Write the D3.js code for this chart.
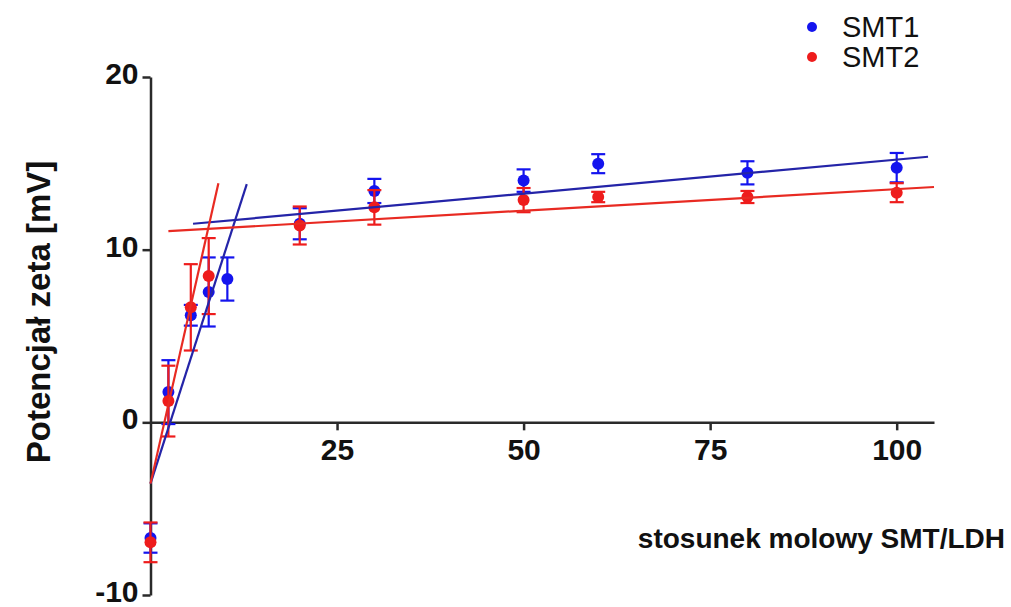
<!DOCTYPE html>
<html>
<head>
<meta charset="utf-8">
<script src="https://cdn.jsdelivr.net/npm/d3@7"></script>
<style>
  body { margin: 0; background: #fff; }
  svg { font-family: "Liberation Sans", Arial, sans-serif; }
</style>
</head>
<body>
<div id="chart"></div>
<script>
const ratios = [0, 2.4, 5.4, 7.8, 10.3, 20, 30, 50, 60, 80, 100];
const smt1 = [-6.7, 1.75, 6.2, 7.55, 8.3, 11.5, 13.4, 14.0, 14.98, 14.45, 14.75];
const smt1Err = [0.85, 1.85, 0.6, 2.0, 1.25, 0.9, 0.7, 0.65, 0.55, 0.67, 0.85];
const ratios2 = [0, 2.4, 5.4, 7.8, 20, 30, 50, 60, 80, 100];
const smt2 = [-6.95, 1.23, 6.66, 8.47, 11.4, 12.45, 12.87, 13.05, 13.05, 13.3];
const smt2Err = [1.15, 2.05, 2.5, 2.2, 1.1, 1.0, 0.7, 0.3, 0.35, 0.55];

// fitted lines: [x start, y start, x end, y end]
const fit1 = [[0, -3.55, 12.9, 13.8], [5.7, 11.5, 104.2, 15.38]];
const fit2 = [[0, -3.55, 9.1, 13.84], [2.4, 11.07, 105, 13.63]];

const xTicks = [25, 50, 75, 100];
const yTicks = [-10, 0, 10, 20];

const width = 1011, height = 607;
const svg = d3.select("#chart").append("svg")
    .attr("width", width).attr("height", height);

const x = d3.scaleLinear().domain([0, 105]).range([150.5, 934]);
const y = d3.scaleLinear().domain([-10, 20]).range([595, 77]);

const blue = "#1414ee", blueLine = "#2424a8";
const red = "#ee1c1c", redLine = "#e82a22";
const fmt = function(d) { return String(d); };

// axes
const xAxis = svg.append("g")
    .attr("transform", "translate(0," + y(0) + ")")
    .call(d3.axisBottom(x).tickValues(xTicks).tickFormat(fmt).tickSize(8).tickSizeOuter(0).tickPadding(8));
const yAxis = svg.append("g")
    .attr("transform", "translate(" + x(0) + ",0)")
    .call(d3.axisLeft(y).tickValues(yTicks).tickFormat(fmt).tickSize(8).tickSizeOuter(0).tickPadding(4));

[xAxis, yAxis].forEach(function(a) {
  a.select(".domain").attr("stroke", "#2a2a2a").attr("stroke-width", 2.5);
  a.selectAll(".tick line").attr("stroke", "#2a2a2a").attr("stroke-width", 2.5);
  a.selectAll(".tick text")
      .attr("fill", "#111")
      .style("font-size", "30px")
      .style("font-weight", "bold");
});
yAxis.selectAll(".tick text").attr("dy", "0.22em");

// titles
svg.append("text")
    .attr("transform", "translate(38," + 312 + ") rotate(-90)")
    .attr("text-anchor", "middle")
    .attr("dy", "0.35em")
    .style("font-size", "33px").style("font-weight", "bold")
    .attr("fill", "#111")
    .text("Potencjał zeta [mV]");

svg.append("text")
    .attr("x", 1005).attr("y", 548)
    .attr("text-anchor", "end")
    .style("font-size", "28px").style("font-weight", "bold")
    .attr("fill", "#111")
    .text("stosunek molowy SMT/LDH");

function drawSeries(xs, ys, errs, col, cls) {
  const g = svg.append("g").attr("class", cls);
  const pts = xs.map(function(v, i) { return {x: v, y: ys[i], e: errs[i]}; });
  const bars = g.selectAll("g.err").data(pts).enter().append("g").attr("class", "err")
      .attr("stroke", col).attr("stroke-width", 2.2);
  bars.append("line")
      .attr("x1", function(d) { return x(d.x); }).attr("x2", function(d) { return x(d.x); })
      .attr("y1", function(d) { return y(d.y + d.e); }).attr("y2", function(d) { return y(d.y - d.e); });
  bars.append("line")
      .attr("x1", function(d) { return x(d.x) - 7; }).attr("x2", function(d) { return x(d.x) + 7; })
      .attr("y1", function(d) { return y(d.y + d.e); }).attr("y2", function(d) { return y(d.y + d.e); });
  bars.append("line")
      .attr("x1", function(d) { return x(d.x) - 7; }).attr("x2", function(d) { return x(d.x) + 7; })
      .attr("y1", function(d) { return y(d.y - d.e); }).attr("y2", function(d) { return y(d.y - d.e); });
  g.selectAll("circle").data(pts).enter().append("circle")
      .attr("cx", function(d) { return x(d.x); })
      .attr("cy", function(d) { return y(d.y); })
      .attr("r", 6)
      .attr("fill", col);
}

function drawFit(segs, col) {
  svg.append("g").selectAll("line").data(segs).enter().append("line")
      .attr("x1", function(d) { return x(d[0]); }).attr("y1", function(d) { return y(d[1]); })
      .attr("x2", function(d) { return x(d[2]); }).attr("y2", function(d) { return y(d[3]); })
      .attr("stroke", col).attr("stroke-width", 2.2);
}

drawSeries(ratios, smt1, smt1Err, blue, "smt1");
drawSeries(ratios2, smt2, smt2Err, red, "smt2");
drawFit(fit1, blueLine);
drawFit(fit2, redLine);

// legend
const legend = [{name: "SMT1", col: blue}, {name: "SMT2", col: red}];
const lg = svg.append("g").selectAll("g").data(legend).enter().append("g")
    .attr("transform", function(d, i) { return "translate(812," + (27 + i * 30) + ")"; });
lg.append("circle").attr("r", 5).attr("fill", function(d) { return d.col; });
lg.append("text")
    .attr("x", 30).attr("dy", "0.35em")
    .style("font-size", "29px")
    .attr("fill", "#111")
    .text(function(d) { return d.name; });
</script>
</body>
</html>
